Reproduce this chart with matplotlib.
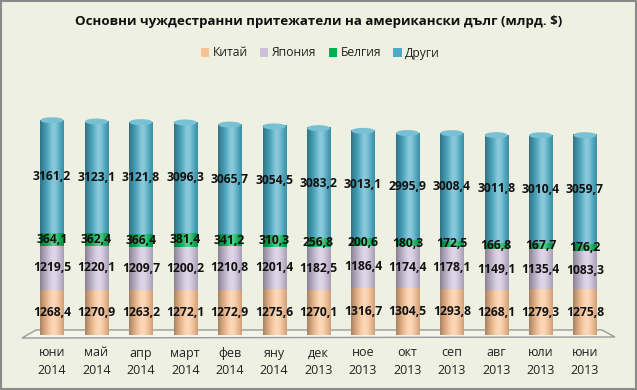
import numpy as np
import matplotlib
matplotlib.use("Agg")
import matplotlib.pyplot as plt
from matplotlib.patches import Ellipse, Rectangle, Polygon
from matplotlib.colors import to_rgb

plt.rcParams['font.family'] = ['Open Sans', 'DejaVu Sans']

months = ["юни", "май", "апр", "март", "фев", "яну", "дек", "ное", "окт", "сеп", "авг", "юли", "юни"]
years = ["2014"] * 6 + ["2013"] * 7
china = [1268.4, 1270.9, 1263.2, 1272.1, 1272.9, 1275.6, 1270.1, 1316.7, 1304.5, 1293.8, 1268.1, 1279.3, 1275.8]
japan = [1219.5, 1220.1, 1209.7, 1200.2, 1210.8, 1201.4, 1182.5, 1186.4, 1174.4, 1178.1, 1149.1, 1135.4, 1083.3]
belgium = [364.1, 362.4, 366.4, 381.4, 341.2, 310.3, 256.8, 200.6, 180.3, 172.5, 166.8, 167.7, 176.2]
others = [3161.2, 3123.1, 3121.8, 3096.3, 3065.7, 3054.5, 3083.2, 3013.1, 2995.9, 3008.4, 3011.8, 3010.4, 3059.7]
series_names = ["Китай", "Япония", "Белгия", "Други"]
series_colors = ["#F9C294", "#CCC0DA", "#00B050", "#4BACC6"]
series = [china, japan, belgium, others]

W, H = 637, 390
fig = plt.figure(figsize=(W / 100, H / 100), dpi=100)
bg = "#EEF1E1"
fig.patch.set_facecolor(bg)

# outer border
fig.add_artist(Rectangle((0.0015, 0.002), 0.997, 0.995, transform=fig.transFigure,
                         fill=False, edgecolor="#8a8a8a", linewidth=1.5))

ax_left, ax_right = 22, 615
ax_bottom, ax_top = 335, 105
ax = fig.add_axes([ax_left / W, 1 - ax_bottom / H, (ax_right - ax_left) / W, (ax_bottom - ax_top) / H])
ax.set_facecolor("none")
n = len(months)
ymax = 6440
for s in ax.spines.values():
    s.set_visible(False)
ax.set_yticks([])
ax.set_xticks([])

# floor (thin 3D platform)
def fpx(x, y):
    return (x / W, 1 - y / H)
floor = Polygon([fpx(22, 338), fpx(36, 330), fpx(602, 330), fpx(615, 337)], closed=True,
                transform=fig.transFigure, facecolor="#F3F5EA", edgecolor="#9a9a9a", linewidth=1.0, zorder=0)
fig.add_artist(floor)

bw = 0.52
px_per_unit = (ax_bottom - ax_top) / ymax
cap_h = 6 / px_per_unit

def shade(color, npts=60):
    c = np.array(to_rgb(color))
    t = np.linspace(0, 1, npts)
    p = 1 - ((t - 0.58) / 0.62) ** 2
    p = np.clip(p, 0, 1)
    col = c[None, :] * (0.62 + 0.38 * p[:, None])
    hl = (p ** 8)[:, None] * 0.35
    col = col * (1 - hl) + hl
    return np.clip(col, 0, 1)

x = np.arange(n)
bottoms = np.zeros(n)
# bottom rounded end
for i in range(n):
    c = np.array(to_rgb(series_colors[0])) * 0.85
    ax.add_patch(Ellipse((x[i], 0), bw, cap_h, facecolor=c, edgecolor="none", zorder=1))

for si, (vals, colr) in enumerate(zip(series, series_colors)):
    grad = shade(colr)
    for i in range(n):
        y0 = bottoms[i]
        y1 = y0 + vals[i]
        ax.imshow(grad[None, :, :], extent=(x[i] - bw / 2, x[i] + bw / 2, y0, y1),
                  aspect='auto', zorder=2, interpolation='bilinear')
        ax.text(x[i], (y0 + y1) / 2, f"{vals[i]:.1f}".replace(".", ","), ha="center", va="center",
                fontsize=8.7, fontweight="bold", color="#111111", zorder=5)
    bottoms = bottoms + np.array(vals)

# top caps
for i in range(n):
    c = np.array(to_rgb(series_colors[3]))
    top_col = c * 0.75 + 0.25
    ax.add_patch(Ellipse((x[i], bottoms[i]), bw, cap_h, facecolor=top_col, edgecolor="none", zorder=3))

ax.set_xlim(-0.676, n - 1 + 0.676)
ax.set_ylim(0, ymax)

# x labels
for i in range(n):
    xf = (ax_left + (x[i] + 0.676) * (ax_right - ax_left) / (n - 1 + 2 * 0.676)) / W
    fig.text(xf, 1 - 353 / H, months[i], ha="center", va="center", fontsize=9, color="#222222")
    fig.text(xf, 1 - 370 / H, years[i], ha="center", va="center", fontsize=9, color="#222222")

# title
fig.text(0.5, 1 - 22 / H, "Основни чуждестранни притежатели на американски дълг (млрд. $)",
         ha="center", va="center", fontsize=9.6, fontweight="bold", color="#111111")

# legend
handles = [Rectangle((0, 0), 1, 1, facecolor=c, edgecolor="none") for c in series_colors]
leg = fig.legend(handles, series_names, loc="center", bbox_to_anchor=(0.503, 1 - 53 / H), ncol=4,
                 frameon=False, fontsize=8.7, handlelength=0.7, handleheight=0.7, handletextpad=0.3,
                 columnspacing=1.0)
for t in leg.get_texts():
    t.set_color("#222222")

fig.savefig("out.png", dpi=100, facecolor=bg)
